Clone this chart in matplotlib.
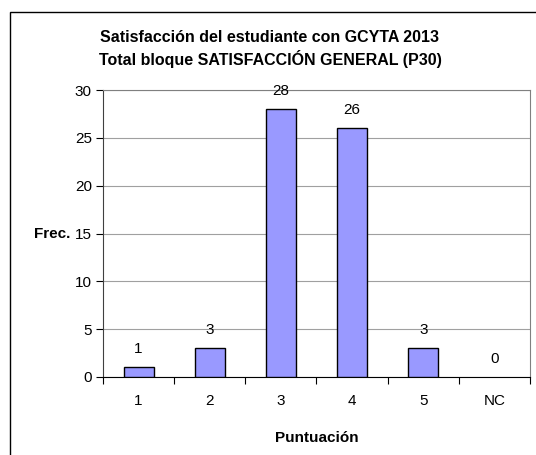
import matplotlib

matplotlib.use('Agg')
import matplotlib.pyplot as plt
from matplotlib.patches import Rectangle

categorias = ['1', '2', '3', '4', '5', 'NC']
frecuencias = [1, 3, 28, 26, 3, 0]
yticks = [0, 5, 10, 15, 20, 25, 30]

plt.rcParams['font.family'] = ['Liberation Sans', 'DejaVu Sans']

W, H = 536, 455
fig = plt.figure(figsize=(W / 100, H / 100), dpi=100)

# borde del area del grafico (cortado a la derecha y abajo)
fig.patches.append(Rectangle((10 / W, -0.1), 1.2, 1 - 12 / H + 0.1,
                             transform=fig.transFigure, fill=False,
                             edgecolor='black', linewidth=1.0))

left, right, top, bottom = 103, 530, 90, 377
ax = fig.add_axes([left / W, 1 - bottom / H, (right - left) / W, (bottom - top) / H])

x = list(range(len(categorias)))
alturas = [v if v > 0 else float('nan') for v in frecuencias]
ax.bar(x, alturas, width=0.42, color='#9999FF', edgecolor='black',
       linewidth=1.0, zorder=3)

for xi, v in zip(x, frecuencias):
    ax.annotate(str(v), (xi, v), xytext=(0, 8), textcoords='offset points',
                ha='center', va='bottom', fontsize=11)

ax.set_xlim(-0.5, len(categorias) - 0.5)
ax.set_ylim(0, 30)
ax.set_yticks(yticks)
ax.yaxis.grid(True, color='#a0a0a0', linewidth=0.8, zorder=0)

# ticks en los limites de categoria
ax.set_xticks([i - 0.5 for i in range(len(categorias) + 1)])
ax.set_xticklabels([])
ax.set_xticks(x, minor=True)
ax.set_xticklabels(categorias, minor=True, fontsize=11)
ax.tick_params(axis='x', which='minor', length=0, pad=12)
ax.tick_params(axis='x', which='major', length=5, direction='out', color='black')
ax.tick_params(axis='y', length=5, direction='out', labelsize=11, pad=3)

for s in ['top', 'right']:
    ax.spines[s].set_color('#808080')
ax.spines['left'].set_color('#404040')
ax.spines['bottom'].set_color('black')

ax.set_xlabel('Puntuación', fontsize=11, fontweight='bold', labelpad=17)
fig.text(70 / W, 1 - 234 / H, 'Frec.', fontsize=11, fontweight='bold',
         ha='right', va='center')

fig.text(270 / W, 1 - 37 / H, 'Satisfacción del estudiante con GCYTA 2013',
         fontsize=11.5, fontweight='bold', ha='center', va='center')
fig.text(270 / W, 1 - 59 / H, 'Total bloque SATISFACCIÓN GENERAL (P30)',
         fontsize=11.5, fontweight='bold', ha='center', va='center')

fig.savefig('out.png', dpi=100)
